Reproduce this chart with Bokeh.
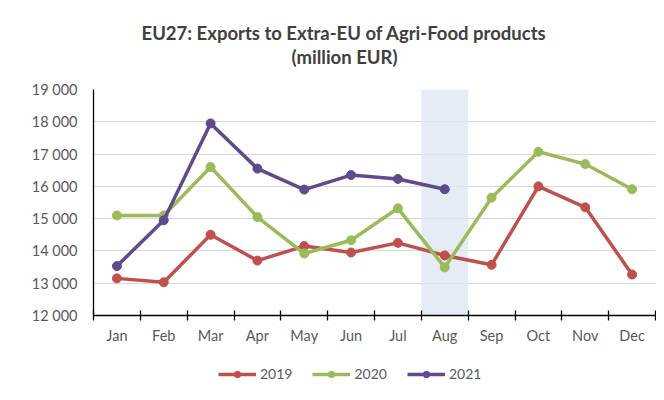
from bokeh.plotting import figure
from bokeh.layouts import column
from bokeh.models import FixedTicker, Range1d, Title, BoxAnnotation, Legend
from bokeh.embed import file_html
from bokeh.resources import INLINE

months = ["Jan", "Feb", "Mar", "Apr", "May", "Jun", "Jul", "Aug", "Sep", "Oct", "Nov", "Dec"]
v2019 = [13150, 13030, 14500, 13700, 14150, 13950, 14250, 13860, 13570, 16000, 15350, 13270]
v2020 = [15100, 15100, 16600, 15050, 13920, 14330, 15320, 13490, 15650, 17070, 16690, 15910]
v2021 = [13530, 14950, 17950, 16550, 15900, 16350, 16230, 15910]
y_ticks = [12000, 13000, 14000, 15000, 16000, 17000, 18000, 19000]
y_labels = ["12 000", "13 000", "14 000", "15 000", "16 000", "17 000", "18 000", "19 000"]
highlight_month = "Aug"
title_line1 = "EU27: Exports to Extra-EU of Agri-Food products"
title_line2 = "(million EUR)"

FONT = "Lato"
TXT = "#595959"
COLORS = {"2019": "#C0504D", "2020": "#9BBB59", "2021": "#5E4A8C"}

p = figure(frame_width=562, frame_height=226, output_backend="svg", toolbar_location=None,
           x_range=Range1d(0, 12), y_range=Range1d(12000, 19000),
           min_border_left=93, min_border_right=1, min_border_top=0, min_border_bottom=42)
p.outline_line_color = None
p.background_fill_color = "white"

# highlight band
hi = months.index(highlight_month)
p.add_layout(BoxAnnotation(left=hi, right=hi + 1, fill_color="#DCE6F2", fill_alpha=0.75,
                           line_color=None, level="underlay"))

centers = [i + 0.5 for i in range(len(months))]
series = [("2019", v2019), ("2020", v2020), ("2021", v2021)]
for name, vals in series:
    col = COLORS[name]
    xs = centers[:len(vals)]
    p.line(xs, vals, line_color=col, line_width=3.5)
    p.scatter(xs, vals, size=9, fill_color=col, line_color=col)

# x axis
xa = p.xaxis[0]
xa.ticker = FixedTicker(ticks=centers, minor_ticks=list(range(13)))
xa.major_label_overrides = {c: m for c, m in zip(centers, months)}
xa.major_tick_in = 0
xa.major_tick_out = 0
xa.minor_tick_in = 5
xa.minor_tick_out = 5
xa.minor_tick_line_color = "black"
xa.minor_tick_line_width = 1.3
xa.axis_line_color = "black"
xa.axis_line_width = 1.3
xa.major_label_standoff = 6
xa.major_label_text_font = FONT
xa.major_label_text_font_size = "14.5px"
xa.major_label_text_color = TXT

ya = p.yaxis[0]
ya.ticker = FixedTicker(ticks=y_ticks)
ya.major_label_overrides = {t: l for t, l in zip(y_ticks, y_labels)}
ya.major_tick_in = 0
ya.major_tick_out = 0
ya.minor_tick_line_color = None
ya.axis_line_color = "black"
ya.axis_line_width = 1.3
ya.major_label_standoff = 16
ya.major_label_text_font = FONT
ya.major_label_text_font_size = "14.5px"
ya.major_label_text_color = TXT

p.xgrid.grid_line_color = None
p.ygrid.grid_line_color = "#d9d9d9"
p.ygrid.grid_line_width = 1.2

gap_below = Title(text=" ", text_font_size="18px", standoff=0)
t2 = Title(text=title_line2, align="left", offset=198, text_font=FONT, text_font_size="18.5px",
           text_font_style="bold", text_color="#404040", standoff=0)
t1 = Title(text=title_line1, align="left", offset=48, text_font=FONT, text_font_size="18.5px",
           text_font_style="bold", text_color="#404040", standoff=0)
gap_top = Title(text=" ", text_font_size="16px", standoff=0)
p.add_layout(gap_below, "above")
p.add_layout(t2, "above")
p.add_layout(t1, "above")
p.add_layout(gap_top, "above")

# legend strip below the chart (its proxy renderers lie outside its view)
pl = figure(width=656, height=26, output_backend="svg", toolbar_location=None,
            x_range=Range1d(0, 1), y_range=Range1d(0, 1),
            min_border_left=0, min_border_right=0, min_border_top=0, min_border_bottom=0)
pl.axis.visible = False
pl.grid.visible = False
pl.outline_line_color = None
items = []
for name, vals in series:
    col = COLORS[name]
    xs = centers[:len(vals)]
    r1 = pl.line(xs, vals, line_color=col, line_width=3.5)
    r2 = pl.scatter(xs, vals, size=9, fill_color=col, line_color=col)
    items.append((name, [r1, r2]))
legend = Legend(items=items, orientation="horizontal", location=(125, 1),
                glyph_width=38, glyph_height=16, label_standoff=4, spacing=20,
                label_text_font=FONT, label_text_font_size="14px", label_text_color=TXT,
                border_line_color=None, background_fill_alpha=0, margin=0, padding=4)
pl.add_layout(legend)

layout = column(p, pl, spacing=0)
open("out.html", "w").write(file_html(layout, INLINE))
